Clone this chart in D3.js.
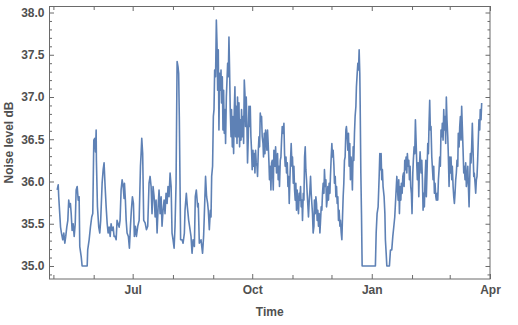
<!DOCTYPE html>
<html>
<head>
<meta charset="utf-8">
<script src="https://cdn.jsdelivr.net/npm/d3@7"></script>
<style>
  html, body { margin: 0; padding: 0; background: #ffffff; }
  svg { display: block; }
</style>
</head>
<body>
<svg id="chart" width="518" height="325"></svg>
<script>
// Time axis: the series is recorded as days since this origin (UTC).
const seriesOrigin = Date.UTC(2015, 3, 28);
const timeDomainEnd = Date.UTC(2016, 3, 1);
const DAY_MS = 86400000;

// Noise level readings: [days since origin, level in dB]
const noiseReadings = [
  [5.9,35.90],[6.7,35.96],[7.1,35.82],[8.5,35.46],[9.2,35.39],[10.2,35.31],[11.0,35.39],[11.8,35.27],[12.5,35.35],[13.3,35.46],
  [14.1,35.54],[14.8,35.78],[15.4,35.70],[16.1,35.74],[16.7,35.62],[17.4,35.42],[18.2,35.50],[19.0,35.35],[19.8,35.50],[20.5,35.90],
  [21.3,35.94],[22.1,35.78],[22.8,35.82],[23.3,35.23],[24.4,35.11],[25.1,35.00],[29.0,35.00],[29.4,35.19],[30.5,35.31],[31.5,35.46],
  [32.5,35.58],[33.3,35.62],[34.1,36.49],[34.8,36.51],[35.4,36.35],[35.9,36.61],[36.1,36.25],[36.9,35.70],[37.9,35.46],[38.7,35.39],
  [39.4,35.54],[40.5,35.98],[41.3,36.14],[42.0,36.22],[42.8,35.94],[43.6,35.70],[44.4,35.50],[45.1,35.39],[45.9,35.46],[46.7,35.35],
  [47.4,35.50],[48.2,35.42],[49.0,35.46],[49.7,35.35],[50.5,35.35],[51.3,35.31],[52.0,35.54],[52.8,35.50],[53.6,35.46],[54.3,35.54],
  [55.1,35.90],[55.9,36.02],[56.7,35.94],[57.4,35.80],[57.7,35.98],[58.4,35.78],[59.0,35.54],[59.7,35.39],[60.7,35.35],[61.5,35.21],
  [62.3,35.47],[63.0,35.66],[63.8,35.82],[64.6,35.74],[65.3,35.35],[66.1,35.47],[66.9,35.35],[67.9,35.47],[69.0,35.54],[70.0,36.18],
  [70.5,36.33],[71.0,36.51],[71.7,36.33],[72.5,35.54],[73.6,35.51],[74.6,35.43],[75.6,35.47],[76.6,35.98],[77.4,36.06],[78.2,35.94],
  [78.9,35.62],[79.7,35.94],[80.5,35.82],[81.3,35.58],[82.0,35.78],[82.8,35.39],[83.6,35.70],[84.3,35.90],[85.1,35.62],[85.9,35.82],
  [86.6,35.47],[87.4,35.66],[88.2,35.78],[88.9,35.62],[89.7,35.86],[90.5,35.74],[91.2,35.94],[92.0,35.82],[92.8,36.10],[93.6,35.94],
  [94.3,35.39],[95.1,35.31],[95.9,35.21],[96.6,35.47],[97.4,35.98],[97.9,36.89],[98.2,37.42],[98.9,37.36],[99.4,37.28],[99.9,36.77],
  [100.5,35.90],[100.9,35.31],[102.0,35.31],[102.8,35.27],[103.8,35.39],[104.3,35.66],[105.3,35.86],[106.1,35.70],[107.1,35.54],[107.8,35.47],
  [108.9,35.35],[109.7,35.15],[110.5,35.31],[111.5,35.23],[112.2,35.82],[113.0,35.90],[114.0,35.70],[114.5,35.74],[115.3,35.27],[116.6,35.31],
  [117.8,35.15],[118.6,35.35],[119.1,35.58],[120.1,36.06],[120.9,35.82],[121.7,35.74],[122.2,35.66],[123.0,35.43],[123.8,35.66],[124.3,35.58],
  [124.8,36.06],[125.5,36.18],[126.1,36.77],[126.6,36.85],[127.1,37.32],[127.8,37.24],[128.4,37.91],[128.9,37.64],[129.4,37.08],[129.9,37.56],
  [130.4,36.61],[130.9,37.28],[131.4,37.08],[132.0,37.32],[132.4,36.93],[133.0,37.24],[133.5,36.61],[134.0,37.08],[134.5,36.57],[135.1,36.85],
  [135.5,36.45],[136.1,37.00],[136.6,37.20],[137.1,37.40],[137.6,37.24],[138.1,37.71],[138.6,37.32],[139.1,36.85],[139.7,36.53],[140.1,36.85],
  [140.7,36.41],[141.2,36.77],[141.7,36.33],[142.2,36.85],[142.7,37.12],[143.2,36.53],[143.7,36.89],[144.3,36.45],[144.7,37.00],[145.3,36.53],
  [145.8,36.93],[146.3,36.41],[146.8,36.73],[147.4,36.49],[147.8,36.85],[148.4,36.53],[148.9,36.77],[149.4,36.45],[149.9,37.20],[150.4,37.04],
  [150.9,36.65],[151.4,37.00],[152.0,36.61],[152.4,36.22],[153.0,36.53],[153.5,36.89],[154.0,36.65],[154.5,36.89],[155.0,36.53],[155.5,36.37],
  [156.0,36.14],[156.6,36.37],[157.0,36.18],[157.6,36.33],[158.1,36.10],[158.6,36.37],[159.1,36.22],[159.7,36.18],[160.1,36.06],[160.7,36.37],
  [161.2,36.53],[161.7,36.41],[162.2,36.81],[162.7,36.73],[163.2,36.77],[163.7,36.53],[164.3,36.45],[164.7,36.29],[165.3,36.57],[165.8,36.33],
  [166.3,36.61],[166.8,36.53],[167.3,36.37],[167.8,36.61],[168.3,36.45],[168.9,36.22],[169.3,36.02],[169.9,36.18],[170.4,35.90],[170.9,36.22],
  [171.4,36.25],[172.2,35.90],[172.7,36.37],[173.5,36.18],[174.0,36.41],[174.7,36.10],[175.5,36.33],[176.0,36.02],[176.6,36.18],[177.0,35.94],
  [177.6,36.25],[178.1,36.29],[178.6,36.49],[179.1,36.65],[179.9,36.57],[180.4,36.69],[180.9,36.33],[181.4,36.18],[182.0,36.29],[182.4,36.10],
  [183.0,36.22],[183.5,35.94],[184.0,36.06],[184.5,35.74],[185.0,36.02],[185.5,36.25],[186.0,36.45],[186.6,36.18],[187.0,36.29],[187.6,35.98],
  [188.1,36.18],[188.6,35.90],[189.1,35.78],[189.6,35.98],[190.1,35.66],[190.6,35.90],[191.2,35.74],[191.6,35.62],[192.2,35.86],[192.7,35.78],
  [193.2,35.94],[193.7,35.70],[194.3,35.78],[194.7,35.54],[195.3,35.86],[195.8,35.78],[196.3,36.29],[196.8,36.41],[197.3,36.14],[197.8,36.02],
  [198.3,35.86],[198.9,35.70],[199.3,35.58],[199.9,35.78],[200.4,35.90],[200.9,36.06],[201.4,35.86],[201.9,35.74],[202.4,35.62],[202.9,35.39],
  [203.5,35.47],[203.9,35.78],[204.5,35.62],[205.0,35.82],[205.5,35.74],[206.0,35.54],[206.5,35.66],[207.0,35.47],[207.5,35.62],[208.1,35.39],
  [208.5,35.51],[209.1,35.70],[209.6,35.66],[210.1,35.86],[210.6,35.98],[211.2,35.86],[211.6,36.14],[212.2,35.94],[212.7,36.02],[213.2,35.70],
  [213.7,35.78],[214.2,35.94],[214.7,35.78],[215.2,35.98],[215.8,35.86],[216.2,36.06],[216.8,36.29],[217.3,36.45],[217.8,36.29],[218.3,36.37],
  [218.9,36.18],[219.3,35.98],[219.9,36.06],[220.4,35.82],[220.9,35.94],[221.4,35.74],[221.9,35.82],[222.4,35.54],[222.9,35.66],[223.5,35.47],
  [223.9,35.54],[224.5,35.39],[225.0,35.31],[225.5,35.58],[226.0,35.82],[226.5,35.98],[227.0,36.25],[227.5,36.29],[228.1,36.61],[228.5,36.65],
  [229.1,36.53],[229.6,36.37],[230.1,36.57],[230.6,36.18],[231.1,36.45],[231.6,36.02],[232.1,36.29],[232.7,36.10],[233.1,35.90],[233.7,36.41],
  [234.2,36.25],[234.7,36.57],[235.2,36.77],[235.8,36.89],[236.2,37.12],[236.8,37.28],[237.3,37.40],[237.8,37.32],[238.3,37.56],[238.8,37.28],
  [239.1,36.89],[239.6,36.10],[240.1,35.62],[240.6,35.00],[250.8,35.00],[251.4,35.39],[252.1,35.62],[252.9,35.70],[253.7,36.06],[254.2,36.33],
  [254.7,36.14],[255.2,36.33],[255.7,36.02],[256.2,36.14],[256.7,35.94],[257.5,35.82],[258.1,35.62],[258.5,35.31],[259.1,35.15],[259.6,35.00],
  [261.6,35.00],[262.4,35.19],[263.4,35.19],[264.2,35.35],[265.0,35.47],[265.7,35.58],[266.5,35.82],[267.3,36.06],[267.7,35.94],[268.3,35.78],
  [268.8,36.02],[269.3,35.62],[269.8,35.94],[270.4,35.78],[270.8,35.98],[271.4,35.86],[271.9,36.06],[272.4,36.10],[272.9,35.94],[273.4,36.25],
  [273.9,36.14],[274.4,36.29],[275.0,36.10],[275.4,36.33],[276.0,36.18],[276.5,36.25],[277.0,36.02],[277.5,36.18],[278.0,35.94],[278.5,35.86],
  [279.0,35.62],[279.6,36.10],[280.0,36.25],[280.6,36.41],[281.1,36.33],[281.6,36.73],[282.1,36.49],[282.7,36.18],[283.1,36.02],[283.7,36.22],
  [284.2,35.82],[284.7,36.18],[285.2,36.35],[286.0,36.10],[286.5,36.25],[287.0,36.02],[287.5,35.66],[288.0,35.86],[288.5,35.70],[289.0,36.02],
  [289.6,36.25],[290.0,35.82],[290.6,36.14],[291.1,36.45],[291.6,36.33],[292.1,36.69],[292.6,36.96],[293.1,36.61],[293.6,36.65],[294.2,36.29],
  [294.6,36.18],[295.2,36.02],[295.7,36.18],[296.2,35.86],[296.7,35.98],[297.3,35.82],[297.7,35.78],[298.3,35.86],[298.8,35.78],[299.3,36.02],
  [299.8,36.14],[300.3,36.29],[300.8,36.18],[301.3,36.61],[301.9,36.53],[302.3,36.69],[302.9,36.49],[303.4,36.85],[303.9,36.61],[304.4,36.77],
  [304.9,36.45],[305.4,37.00],[305.9,36.73],[306.5,36.53],[306.9,36.33],[307.5,35.94],[308.0,36.29],[308.5,36.10],[309.0,36.29],[309.6,36.02],
  [310.0,36.18],[310.6,35.94],[311.1,35.82],[311.6,35.74],[312.1,35.86],[312.6,36.02],[313.1,36.10],[313.6,36.25],[314.2,36.18],[314.6,36.57],
  [315.2,36.41],[315.7,36.65],[316.2,36.77],[316.7,36.49],[317.2,36.89],[317.7,36.65],[318.2,36.41],[318.8,36.10],[319.2,36.18],[319.8,36.02],
  [320.3,36.22],[320.8,35.94],[321.3,36.02],[321.9,36.18],[322.3,35.98],[322.9,35.70],[323.4,36.02],[323.9,36.33],[324.4,36.22],[324.9,36.41],
  [325.4,36.69],[325.9,36.41],[326.5,36.06],[326.9,36.10],[327.5,35.98],[328.0,35.86],[328.5,36.02],[329.0,36.06],[329.5,36.25],[330.0,36.49],
  [330.5,36.73],[331.1,36.61],[331.5,36.85],[332.1,36.73],[332.6,36.93]
];

// Axis ticks
const yMajorTicks = [35.0, 35.5, 36.0, 36.5, 37.0, 37.5, 38.0];
const yMinorTicks = [34.9, 35.1, 35.2, 35.3, 35.4, 35.6, 35.7, 35.8, 35.9, 36.1, 36.2, 36.3, 36.4,
                     36.6, 36.7, 36.8, 36.9, 37.1, 37.2, 37.3, 37.4, 37.6, 37.7, 37.8, 37.9];
const xTickLabels = ["Jul", "Oct", "Jan", "Apr"];
const xLabelMonths = [[2015, 6], [2015, 9], [2016, 0], [2016, 3]];
const yDomain = [34.846, 38.077];

const xAxisTitle = "Time";
const yAxisTitle = "Noise level dB";

// Layout
const width = 518, height = 325;
const plot = { left: 49.5, right: 490, top: 6, bottom: 279 };
const frameColor = "#6a6a6a";
const labelColor = "#505050";
const lineColor = "#5e81b5";
const fontFamily = "'Liberation Sans', Arial, Helvetica, sans-serif";

const svg = d3.select("#chart");

const x = d3.scaleUtc()
  .domain([new Date(seriesOrigin), new Date(timeDomainEnd)])
  .range([plot.left, plot.right]);
const y = d3.scaleLinear()
  .domain(yDomain)
  .range([plot.bottom, plot.top]);

const xMajorDates = xLabelMonths.map(([yr, m]) => new Date(Date.UTC(yr, m, 1)));
const xMinorDates = d3.utcMonth.range(new Date(seriesOrigin), new Date(timeDomainEnd + 1))
  .filter(d => !xMajorDates.some(m => +m === +d));
const labelFor = new Map(xMajorDates.map((d, i) => [+d, xTickLabels[i]]));

// Series line
const line = d3.line()
  .x(d => x(new Date(seriesOrigin + d[0] * DAY_MS)))
  .y(d => y(d[1]));

svg.append("path")
  .datum(noiseReadings)
  .attr("fill", "none")
  .attr("stroke", lineColor)
  .attr("stroke-width", 1.6)
  .attr("stroke-linejoin", "round")
  .attr("d", line);

// Axes helper: inward ticks on every side of the frame
function styleAxis(g) {
  g.select(".domain").remove();
  g.selectAll(".tick line").attr("stroke", frameColor).attr("stroke-width", 1);
  g.selectAll(".tick text")
    .attr("fill", labelColor)
    .style("font-family", fontFamily)
    .style("font-size", "12px")
    .style("font-weight", "bold");
}

const majorX = 5, minorX = 4, majorY = 4.5, minorY = 2.5;

// bottom
svg.append("g").attr("transform", `translate(0,${plot.bottom})`)
  .call(d3.axisBottom(x).tickValues(xMinorDates).tickSize(-minorX).tickFormat(""))
  .call(styleAxis);
svg.append("g").attr("transform", `translate(0,${plot.bottom})`)
  .call(d3.axisBottom(x).tickValues(xMajorDates).tickSize(-majorX).tickPadding(6)
    .tickFormat(d => labelFor.get(+d)))
  .call(styleAxis);
// top
svg.append("g").attr("transform", `translate(0,${plot.top})`)
  .call(d3.axisTop(x).tickValues(xMinorDates).tickSize(-minorX).tickFormat(""))
  .call(styleAxis);
svg.append("g").attr("transform", `translate(0,${plot.top})`)
  .call(d3.axisTop(x).tickValues(xMajorDates).tickSize(-majorX).tickFormat(""))
  .call(styleAxis);
// left
svg.append("g").attr("transform", `translate(${plot.left},0)`)
  .call(d3.axisLeft(y).tickValues(yMinorTicks).tickSize(-minorY).tickFormat(""))
  .call(styleAxis);
svg.append("g").attr("transform", `translate(${plot.left},0)`)
  .call(d3.axisLeft(y).tickValues(yMajorTicks).tickSize(-majorY).tickPadding(5)
    .tickFormat(d3.format(".1f")))
  .call(styleAxis);
// right
svg.append("g").attr("transform", `translate(${plot.right},0)`)
  .call(d3.axisRight(y).tickValues(yMinorTicks).tickSize(-minorY).tickFormat(""))
  .call(styleAxis);
svg.append("g").attr("transform", `translate(${plot.right},0)`)
  .call(d3.axisRight(y).tickValues(yMajorTicks).tickSize(-majorY).tickFormat(""))
  .call(styleAxis);

// Frame
svg.append("rect")
  .attr("x", plot.left)
  .attr("y", plot.top + 0.5)
  .attr("width", plot.right - plot.left)
  .attr("height", plot.bottom - plot.top - 0.5)
  .attr("fill", "none")
  .attr("stroke", frameColor)
  .attr("stroke-width", 1);

// Axis titles
svg.append("text")
  .attr("x", (plot.left + plot.right) / 2)
  .attr("y", 316)
  .attr("text-anchor", "middle")
  .attr("fill", labelColor)
  .style("font-family", fontFamily)
  .style("font-size", "12px")
  .style("font-weight", "bold")
  .text(xAxisTitle);

svg.append("text")
  .attr("transform", `translate(13,${(plot.top + plot.bottom) / 2}) rotate(-90)`)
  .attr("text-anchor", "middle")
  .attr("fill", labelColor)
  .style("font-family", fontFamily)
  .style("font-size", "12px")
  .style("font-weight", "bold")
  .text(yAxisTitle);
</script>
</body>
</html>
